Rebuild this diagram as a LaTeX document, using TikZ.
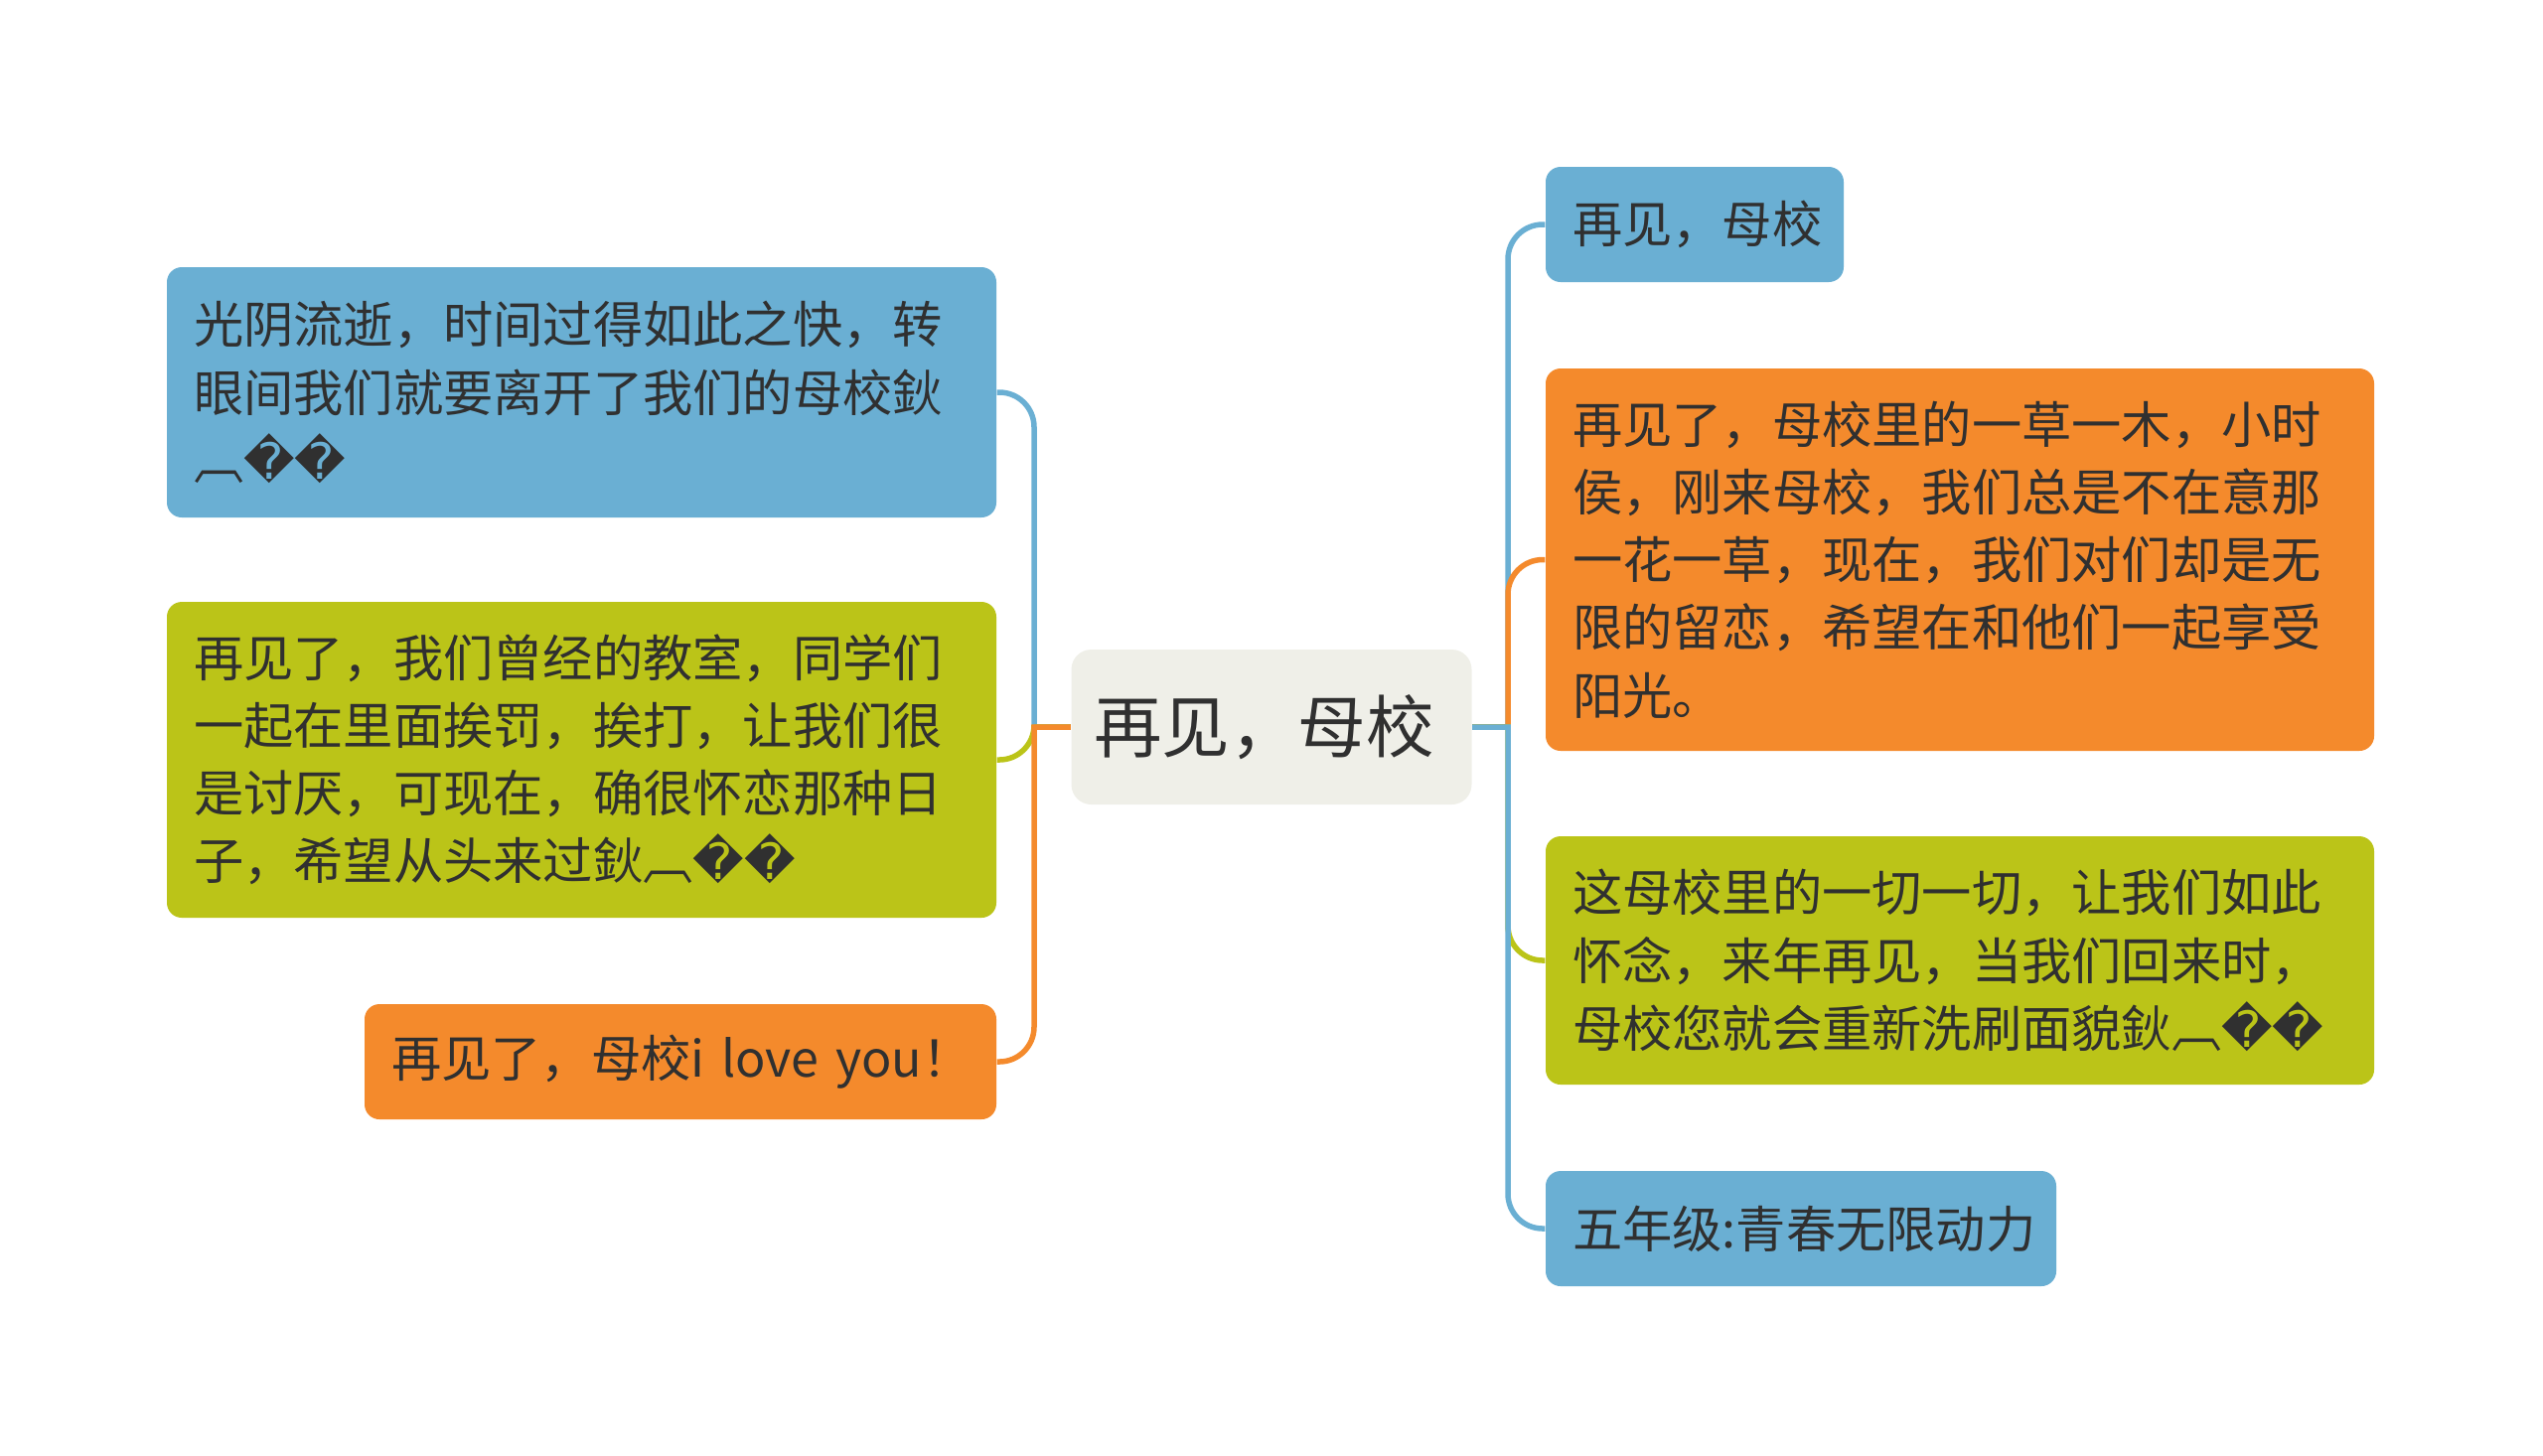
\documentclass[tikz,border=0pt]{standalone}
\usepackage{fontspec}
\setmainfont{Noto Sans CJK SC}
\newfontfamily\repfont{DejaVu Sans}
\usetikzlibrary{
    positioning
}
\definecolor{topicblue}{HTML}{6AAFD3}
\definecolor{topicorange}{HTML}{F48A2C}
\definecolor{topicgreen}{HTML}{BBC418}
\definecolor{rootfill}{HTML}{EFEFE8}
\definecolor{inkgray}{HTML}{303030}
\newcommand{\mojibake}{%
    鈥︹{\repfont ��}%
}

\begin{document}
\begin{tikzpicture}[
    topic/.style={
        rectangle,
        rounded corners=0.15cm,
        text=inkgray,
        align=left,
        inner xsep=0.27cm,
        inner ysep=0.1cm,
        font=\fontsize{14.3pt}{19.4pt}\selectfont
    },
    root/.style={
        rectangle,
        rounded corners=0.2cm,
        fill=rootfill,
        text=inkgray,
        align=center,
        minimum width=4.03cm,
        minimum height=1.56cm,
        font=\fontsize{19.5pt}{24pt}\selectfont
    },
    link/.style={
        line width=0.055cm
    },
    elbow/.style={
        rounded corners=0.35cm
    }
]

\useasboundingbox (0,0) rectangle (25.6,-14.65);

% central topic

\node[root] (root) at (12.80,-7.32) {
    再见，母校
};

\coordinate (lefttrunk) at (10.41,-7.32);
\coordinate (righttrunk) at (15.18,-7.32);

% left topics

\node[
    topic,
    fill=topicblue,
    text width=7.81cm,
    minimum height=2.52cm
] (past) at (5.855,-3.95) {
    光阴流逝，时间过得如此之快，转\\
    眼间我们就要离开了我们的母校鈥\\
    ︹{\repfont ��}
};

\node[
    topic,
    fill=topicgreen,
    text width=7.81cm,
    minimum height=3.18cm
] (classroom) at (5.855,-7.65) {
    再见了，我们曾经的教室，同学们\\
    一起在里面挨罚，挨打，让我们很\\
    是讨厌，可现在，确很怀恋那种日\\
    子，希望从头来过\mojibake
};

\node[
    topic,
    fill=topicorange,
    text width=5.82cm,
    minimum height=1.16cm
] (loveyou) at (6.85,-10.69) {
    \mbox{再见了，母校i love you！}
};

% right topics

\node[
    topic,
    fill=topicblue,
    text width=2.46cm,
    minimum height=1.16cm
] (farewell) at (17.06,-2.26) {
    再见，母校
};

\node[
    topic,
    fill=topicorange,
    text width=7.80cm,
    minimum height=3.85cm
] (grass) at (19.73,-5.635) {
    再见了，母校里的一草一木，小时\\
    侯，刚来母校，我们总是不在意那\\
    一花一草，现在，我们对们却是无\\
    限的留恋，希望在和他们一起享受\\
    阳光。
};

\node[
    topic,
    fill=topicgreen,
    text width=7.80cm,
    minimum height=2.50cm
] (return) at (19.73,-9.67) {
    这母校里的一切一切，让我们如此\\
    怀念，来年再见，当我们回来时，\\
    母校您就会重新洗刷面貌\mojibake
};

\node[
    topic,
    fill=topicblue,
    text width=4.60cm,
    minimum height=1.16cm
] (grade) at (18.13,-12.37) {
    五年级:青春无限动力
};

% left connectors

\draw[link, topicblue]
    (root.west) -- (lefttrunk) [elbow] |- (past.east);

\draw[link, topicgreen]
    (root.west) -- (lefttrunk) [elbow] |- (classroom.east);

\draw[link, topicorange]
    (root.west) -- (lefttrunk) [elbow] |- (loveyou.east);

% right connectors

\draw[link, topicblue]
    (root.east) -- (righttrunk) [elbow] |- (farewell.west);

\draw[link, topicorange]
    (root.east) -- (righttrunk) [elbow] |- (grass.west);

\draw[link, topicgreen]
    (root.east) -- (righttrunk) [elbow] |- (return.west);

\draw[link, topicblue]
    (root.east) -- (righttrunk) [elbow] |- (grade.west);

\end{tikzpicture}
\end{document}
